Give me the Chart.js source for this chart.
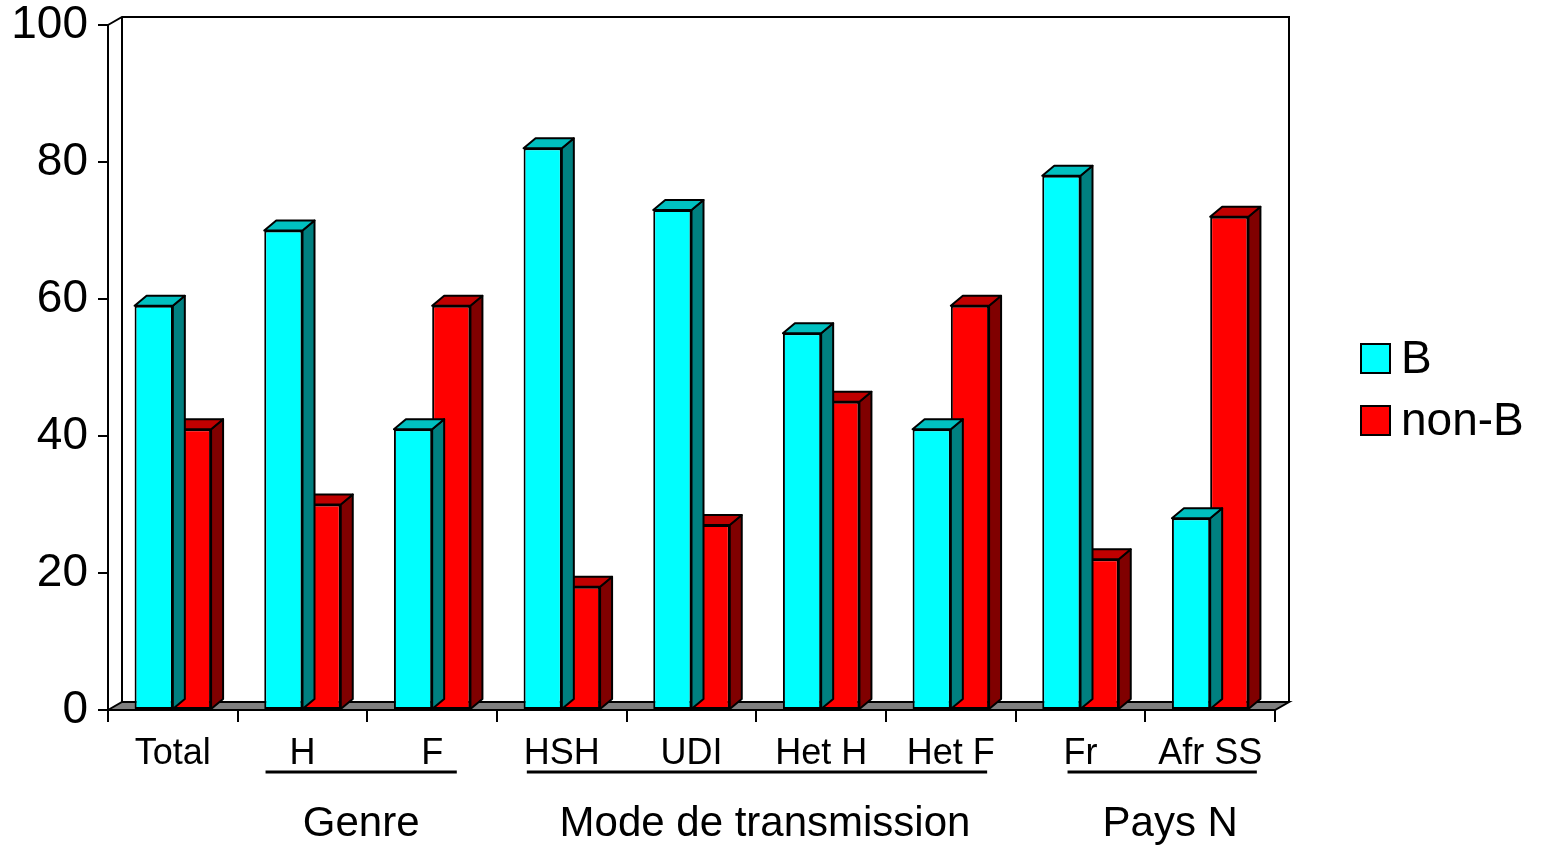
<!DOCTYPE html>
<html>
<head>
<meta charset="utf-8">
<script src="https://cdn.jsdelivr.net/npm/chart.js@4"></script>
<style>
  body { margin: 0; background: #fff; }
  #wrap { width: 1541px; height: 849px; }
</style>
</head>
<body>
<div id="wrap"><canvas id="myChart"></canvas></div>
<script>
const categories = ['Total', 'H', 'F', 'HSH', 'UDI', 'Het H', 'Het F', 'Fr', 'Afr SS'];
const valuesB = [59, 70, 41, 82, 73, 55, 41, 78, 28];
const valuesNonB = [41, 30, 59, 18, 27, 45, 59, 22, 72];
const yTicks = [0, 20, 40, 60, 80, 100];

const groupLabels = ['Genre', 'Mode de transmission', 'Pays N'];
const groupFirst = [1, 3, 7];
const groupLast = [2, 6, 8];

const FONT = '"Liberation Sans", Arial, sans-serif';

// faux 3D: top and side faces of each bar, floor and back walls
const depth = { dx: 12, dy: -10 };
const wall = { dx: 14, dy: -8 };
const shades = [
  { top: '#00c0c0', side: '#008080' },
  { top: '#c00000', side: '#800000' }
];

const poly = (ctx, pts, fill) => {
  ctx.beginPath();
  ctx.moveTo(pts[0][0], pts[0][1]);
  for (let i = 1; i < pts.length; i++) ctx.lineTo(pts[i][0], pts[i][1]);
  ctx.closePath();
  if (fill) { ctx.fillStyle = fill; ctx.fill(); }
  ctx.stroke();
};

const box3d = {
  id: 'box3d',
  beforeDatasetsDraw(chart) {
    const { ctx, chartArea: a } = chart;
    ctx.save();
    ctx.strokeStyle = '#000';
    ctx.lineWidth = 2;
    // floor
    poly(ctx, [[a.left, a.bottom], [a.left + wall.dx, a.bottom + wall.dy],
               [a.right + wall.dx, a.bottom + wall.dy], [a.right, a.bottom]], '#808080');
    // back walls
    ctx.beginPath();
    ctx.moveTo(a.left, a.top);
    ctx.lineTo(a.left + wall.dx, a.top + wall.dy);
    ctx.lineTo(a.right + wall.dx, a.top + wall.dy);
    ctx.lineTo(a.right + wall.dx, a.bottom + wall.dy);
    ctx.moveTo(a.left + wall.dx, a.top + wall.dy);
    ctx.lineTo(a.left + wall.dx, a.bottom + wall.dy);
    ctx.stroke();
    ctx.restore();
  },
  afterDatasetDraw(chart, args) {
    const { ctx } = chart;
    const sh = shades[args.index];
    ctx.save();
    ctx.strokeStyle = '#000';
    ctx.lineWidth = 2;
    ctx.lineJoin = 'round';
    args.meta.data.forEach(bar => {
      const l = bar.x - bar.width / 2, r = bar.x + bar.width / 2;
      const t = bar.y, b = bar.base;
      poly(ctx, [[r, t], [r + depth.dx, t + depth.dy], [r + depth.dx, b + depth.dy], [r, b]], sh.side);
      poly(ctx, [[l, t], [l + depth.dx, t + depth.dy], [r + depth.dx, t + depth.dy], [r, t]], sh.top);
    });
    ctx.restore();
  },
  afterDraw(chart) {
    const { ctx } = chart;
    const x = chart.scales.x;
    const step = x.getPixelForValue(1) - x.getPixelForValue(0);
    const insets = [[0.285, 0.19], [0.27, 0.28], [0.1, 0.36]];
    const shift = [0, 8, 8];
    ctx.save();
    ctx.fillStyle = '#000';
    ctx.strokeStyle = '#000';
    groupLabels.forEach((g, i) => {
      const x0 = x.getPixelForValue(groupFirst[i]) - insets[i][0] * step;
      const x1 = x.getPixelForValue(groupLast[i]) + insets[i][1] * step;
      ctx.lineWidth = 3;
      ctx.beginPath();
      ctx.moveTo(x0, 772);
      ctx.lineTo(x1, 772);
      ctx.stroke();
      ctx.font = '42px ' + FONT;
      ctx.textAlign = 'center';
      ctx.textBaseline = 'middle';
      ctx.fillText(g, (x0 + x1) / 2 + shift[i], 824);
    });
    // legend
    chart.data.datasets.forEach((ds, i) => {
      const y = 344 + i * 62;
      ctx.lineWidth = 2;
      ctx.fillStyle = ds.backgroundColor;
      ctx.fillRect(1361, y, 29, 29);
      ctx.strokeRect(1361, y, 29, 29);
      ctx.fillStyle = '#000';
      ctx.font = '46px ' + FONT;
      ctx.textAlign = 'left';
      ctx.textBaseline = 'middle';
      ctx.fillText(ds.label, 1401, y + 16);
    });
    ctx.restore();
  }
};

new Chart(document.getElementById('myChart'), {
  type: 'bar',
  data: {
    labels: categories,
    datasets: [
      { label: 'B', data: valuesB, backgroundColor: '#00ffff', borderColor: '#000', borderWidth: 2, borderSkipped: false },
      { label: 'non-B', data: valuesNonB, backgroundColor: '#ff0000', borderColor: '#000', borderWidth: 2, borderSkipped: false }
    ]
  },
  options: {
    responsive: true,
    maintainAspectRatio: false,
    animation: false,
    layout: { padding: { top: 25, right: 266, left: 0, bottom: 0 } },
    datasets: { bar: { categoryPercentage: 0.59, barPercentage: 1.0 } },
    plugins: { legend: { display: false }, tooltip: { enabled: false } },
    scales: {
      x: {
        afterFit: s => { s.height = 139; s.paddingLeft = 0; s.paddingRight = 0; },
        grid: { offset: true, drawOnChartArea: false, tickLength: 12, color: '#000', lineWidth: 2 },
        border: { color: '#000', width: 2 },
        ticks: { color: '#000', font: { family: FONT, size: 36 }, padding: 10, maxRotation: 0, autoSkip: false }
      },
      y: {
        min: 0,
        max: 100,
        afterFit: s => { s.width = 108; s.paddingTop = 0; s.paddingBottom = 0; },
        afterBuildTicks: s => { s.ticks = yTicks.map(v => ({ value: v })); },
        grid: { drawOnChartArea: false, tickLength: 10, color: '#000', lineWidth: 2 },
        border: { color: '#000', width: 2 },
        ticks: { color: '#000', font: { family: FONT, size: 46 }, padding: 10 }
      }
    }
  },
  plugins: [box3d]
});
</script>
</body>
</html>
